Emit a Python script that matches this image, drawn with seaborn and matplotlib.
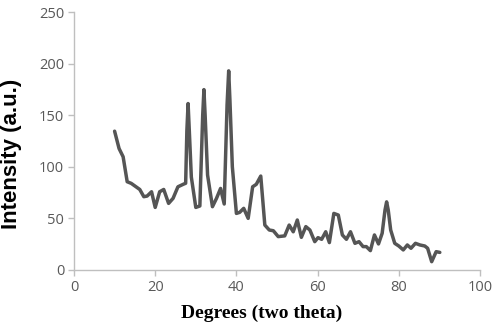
import matplotlib
matplotlib.use("Agg")
import matplotlib.pyplot as plt
import seaborn as sns
import pandas as pd

# XRD pattern
two_theta = [10.0, 11.1, 12.1, 13.1, 14.1, 16.2, 17.2, 18.0, 19.1, 20.0, 21.1, 22.1, 23.3, 24.4,
             25.6, 27.0, 27.5, 27.8, 28.1, 28.4, 28.9, 30.0, 31.0, 31.7, 32.0, 32.3, 32.9, 34.1,
             35.1, 36.1, 37.0, 37.7, 38.1, 38.4, 39.0, 40.0, 40.8, 41.8, 42.9, 44.0, 44.9, 46.0,
             47.0, 48.1, 49.1, 50.3, 51.9, 53.0, 54.0, 55.0, 56.0, 57.1, 58.1, 59.3, 60.1, 61.0,
             62.0, 62.9, 64.0, 65.1, 66.1, 67.1, 68.1, 69.2, 70.2, 71.2, 72.0, 73.0, 74.0, 75.0,
             75.9, 76.6, 77.0, 77.4, 78.0, 79.0, 80.0, 81.1, 82.1, 83.0, 84.1, 85.2, 86.4, 87.1,
             88.1, 89.2, 90.1]
intensity = [134.5, 117.7, 109.7, 85.5, 83.9, 78.0, 71.0, 71.6, 75.8, 60.6, 75.8, 78.0, 64.5, 69.4,
             80.6, 83.2, 84.0, 135.0, 161.3, 135.0, 90.0, 60.6, 62.0, 150.0, 174.8, 150.0, 92.0, 61.3,
             69.4, 79.0, 63.9, 160.0, 193.0, 165.0, 100.0, 54.8, 55.8, 59.7, 50.0, 80.6, 83.0, 91.0,
             43.5, 38.7, 38.0, 32.3, 33.0, 43.5, 37.0, 48.4, 31.6, 42.0, 38.7, 27.4, 31.3, 29.7,
             37.0, 26.5, 54.8, 53.2, 33.9, 29.7, 37.0, 25.8, 27.4, 22.6, 22.6, 18.7, 33.9, 25.2,
             35.5, 58.0, 66.0, 58.0, 38.7, 25.8, 23.2, 19.4, 24.2, 21.0, 25.8, 24.2, 23.2, 21.0,
             8.0, 17.7, 17.0]

x_ticks = [0, 20, 40, 60, 80, 100]
y_ticks = [0, 50, 100, 150, 200, 250]

df = pd.DataFrame({"two_theta": two_theta, "intensity": intensity})

sns.set_style("white")
plt.rcParams['font.family'] = ['Open Sans', 'DejaVu Sans']

fig = plt.figure(figsize=(5, 3.26), dpi=100)
ax = fig.add_axes([0.148, 0.172, 0.812, 0.791])
sns.lineplot(data=df, x="two_theta", y="intensity", ax=ax, color="#555555", linewidth=2.5,
             solid_joinstyle="round", solid_capstyle="round")

ax.set_xlim(0, 100)
ax.set_ylim(0, 250)
ax.set_xticks(x_ticks)
ax.set_yticks(y_ticks)
ax.tick_params(axis="both", colors="#BFBFBF", labelcolor="#595959", labelsize=10.5,
               direction="out", length=4, width=1, left=True, bottom=True, pad=3)
for side in ["top", "right"]:
    ax.spines[side].set_visible(False)
for side in ["left", "bottom"]:
    ax.spines[side].set_color("#BFBFBF")
    ax.spines[side].set_linewidth(1)

ax.set_ylabel("Intensity (a.u.)", fontsize=16, fontweight="bold", color="black",
              family=["Liberation Sans", "DejaVu Sans"])
ax.yaxis.set_label_coords(-0.128, 0.45)
ax.set_xlabel("Degrees (two theta)", fontsize=14, fontweight="bold", color="black",
              family=["Liberation Serif", "DejaVu Serif"])
ax.xaxis.set_label_coords(0.462, -0.135)

fig.savefig("out.png", dpi=100)
